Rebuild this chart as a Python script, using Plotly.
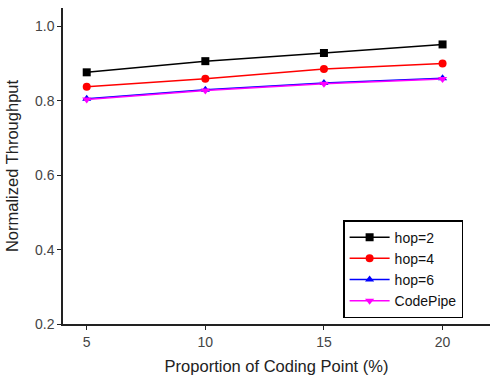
import plotly.graph_objects as go

x_vals = [5, 10, 15, 20]
hop2 = [0.877, 0.907, 0.929, 0.952]
hop4 = [0.838, 0.860, 0.886, 0.901]
hop6 = [0.806, 0.830, 0.848, 0.861]
codepipe = [0.804, 0.828, 0.846, 0.859]

series = [
    ("hop=2", hop2, "#000000", "square"),
    ("hop=4", hop4, "#ff0000", "circle"),
    ("hop=6", hop6, "#0000ff", "triangle-up"),
    ("CodePipe", codepipe, "#ff00ff", "triangle-down"),
]

fig = go.Figure()
for name, ys, color, sym in series:
    fig.add_trace(go.Scatter(
        x=x_vals, y=ys, name=name, mode="lines+markers",
        line=dict(color=color, width=1.5),
        marker=dict(symbol=sym, size=8, color=color),
    ))

fig.update_layout(
    width=490, height=378,
    margin=dict(l=63, r=0, t=8, b=54),
    paper_bgcolor="white", plot_bgcolor="white",
    font=dict(family="Liberation Sans, Arial", color="#222222", size=14),
    showlegend=True,
    legend=dict(
        x=0.656, y=0.329, xanchor="left", yanchor="top",
        bordercolor="#000000", borderwidth=1.5, bgcolor="white",
        font=dict(size=14, color="#111111"),
        tracegroupgap=0, itemwidth=40,
    ),
    xaxis=dict(
        range=[4, 22], tickvals=[5, 10, 15, 20], ticktext=["5", "10", "15", "20"],
        showline=True, linecolor="#222222", linewidth=1.5,
        ticks="outside", ticklen=4, tickcolor="#222222",
        showgrid=False, zeroline=False,
        tickfont=dict(size=14, color="#444444"),
        title=dict(text="Proportion of Coding Point (%)", font=dict(size=16.5, color="#222222"), standoff=12),
    ),
    yaxis=dict(
        range=[0.2, 1.05], tickvals=[0.2, 0.4, 0.6, 0.8, 1.0],
        ticktext=["0.2", "0.4", "0.6", "0.8", "1.0"],
        showline=True, linecolor="#222222", linewidth=1.5,
        ticks="outside", ticklen=4, tickcolor="#222222",
        showgrid=False, zeroline=False,
        tickfont=dict(size=14, color="#444444"),
        title=dict(text="Normalized Throughput", font=dict(size=16.5, color="#222222"), standoff=12),
    ),
)

fig.write_html("out.html")
